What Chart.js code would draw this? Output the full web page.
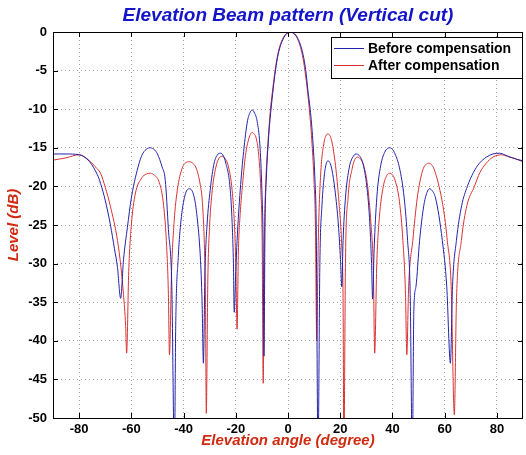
<!DOCTYPE html>
<html>
<head>
<meta charset="utf-8">
<script src="https://cdn.jsdelivr.net/npm/chart.js@4/dist/chart.umd.min.js"></script>
<style>
  html, body { margin: 0; padding: 0; background: #fff; }
  #wrap { width: 526px; height: 455px; position: relative; }
</style>
</head>
<body>
<div id="wrap"><canvas id="c"></canvas></div>
<script>
// values: [angle (deg), level (dB)]
const beforeComp = [
  [-90, -15.8], [-85, -15.8], [-80, -15.9], [-76, -16.8], [-73, -18.5], [-71.8, -19.6],
  [-70, -21.8], [-68, -25], [-66.5, -28], [-65.3, -30.5], [-64.1, -34.5],
  [-63, -29.5], [-61.5, -25.3], [-60, -21.5], [-58.4, -18.8], [-56, -16], [-54.3, -15.2],
  [-52.7, -15.0], [-51, -15.3], [-50, -15.8], [-48.2, -17.5], [-47, -19.2], [-45.8, -25.6],
  [-44.5, -33], [-43.5, -55],
  [-43, -38], [-42, -29], [-41, -24.5], [-39.5, -21.2], [-37.8, -20.3], [-36, -21.3],
  [-34.8, -24], [-33.6, -29], [-32.9, -35], [-32.4, -42.9],
  [-31.8, -31], [-31, -25], [-29.8, -20.5], [-28.3, -17], [-27, -15.9], [-26, -15.7],
  [-25, -15.9], [-23.8, -17], [-22.1, -20.5], [-21.3, -25.5], [-20.9, -30], [-20.6, -36.3],
  [-20, -31], [-19.5, -27], [-18.3, -20.5], [-17, -15.5], [-15.5, -11.5], [-14.5, -10.4],
  [-13.7, -10.1], [-12.8, -10.5], [-11.8, -11.6], [-10.8, -14.5], [-10, -20.5], [-9.5, -28],
  [-9.2, -42],
  [-8.8, -25], [-8.3, -19], [-7.5, -14], [-6.5, -10], [-5.7, -7.5], [-5, -5.5], [-4, -3.3],
  [-3, -1.9], [-2, -1], [-1, -0.4], [0, -0.1], [1, 0], [2, -0.1], [3, -0.4], [4, -1],
  [5, -1.9], [6, -3.3], [7, -5.5], [7.6, -7.5], [8.5, -10], [9.5, -14], [10.3, -19],
  [10.8, -25], [11.5, -55],
  [12.2, -30], [13, -22.5], [14, -18.3], [14.7, -17], [15.3, -16.7], [16, -16.9],
  [16.8, -17.8], [18, -20.5], [19.3, -25], [20.1, -29.5], [20.6, -33],
  [21.1, -27], [22, -21.5], [23.5, -17.5], [25, -16.1], [26.3, -15.8], [27.5, -16.1],
  [28.5, -16.8], [30, -19.5], [31.2, -24], [32, -30], [32.4, -34.6],
  [33, -28], [34, -21.5], [35.5, -17.3], [37, -15.6], [38, -15.1], [39, -15.0], [40, -15.2],
  [41, -15.8], [42.7, -17.6], [44.5, -21.5], [45.8, -27], [46.8, -34], [47.6, -55],
  [48.2, -36], [49, -33], [50.4, -27], [52, -22.5], [53.2, -20.8], [54.2, -20.3],
  [55.3, -20.6], [56.5, -21.5], [59.1, -27], [60.8, -33], [62.2, -42.9],
  [63, -33], [64.5, -27], [66.5, -22.5], [68.7, -20], [71, -18.2], [73.3, -17], [76, -16.2],
  [78.5, -15.8], [81, -15.7], [83, -15.9], [85, -16.2], [90, -16.7]
];

const afterComp = [
  [-90, -16.6], [-85, -16.3], [-80, -15.9], [-77, -16.4], [-74, -17.4], [-71.8, -18.3],
  [-70, -20.1], [-68, -22.6], [-65.3, -27], [-64, -30.4], [-63, -34], [-62.2, -38],
  [-61.8, -41.6],
  [-61, -31], [-60, -25], [-58.5, -21], [-56, -18.9], [-54.3, -18.4], [-52.7, -18.3],
  [-51, -18.6], [-49.5, -19.3], [-47.8, -22], [-46.6, -27], [-45.8, -34], [-45.4, -41.8],
  [-44.6, -31], [-43.6, -24.5], [-42.4, -20.5], [-40.5, -17.6], [-39, -16.9], [-37.8, -16.8],
  [-36.5, -17], [-35.2, -17.6], [-33.6, -19.8], [-32.8, -22], [-32, -28], [-31.6, -35],
  [-31.3, -49.4],
  [-30.7, -32], [-30, -25], [-29, -20.5], [-27.4, -17.2], [-26.3, -16.3], [-25.2, -16.1],
  [-24.1, -16.4], [-23, -17.2], [-21.4, -20.5], [-20.5, -25], [-20, -30], [-19.5, -38.5],
  [-19, -28.5], [-18.3, -23.5], [-17.6, -20.5], [-16.3, -16], [-15, -13.8], [-14.3, -13.2],
  [-13.7, -13.0], [-13, -13.2], [-12.3, -13.6], [-11.2, -16], [-10.4, -20.5], [-9.9, -27],
  [-9.5, -45.5],
  [-9, -26], [-8.5, -19.5], [-7.7, -14.5], [-6.8, -10.3], [-6, -7.8], [-5.2, -5.6],
  [-4.2, -3.4], [-3.2, -1.9], [-2.2, -1], [-1.2, -0.4], [-0.2, -0.1], [0.8, 0],
  [1.8, -0.1], [2.8, -0.4], [3.8, -1], [4.8, -2], [5.8, -3.5], [6.8, -5.8], [7.5, -7.8],
  [8.3, -10.5], [9.2, -14.5], [10, -19.5], [10.5, -25], [11, -40],
  [11.6, -27], [12.5, -18.5], [13.8, -14.3], [14.6, -13.4], [15.3, -13.2], [16, -13.4],
  [16.8, -14.2], [18.2, -17.3], [19.5, -22], [20.6, -28], [21.1, -35], [21.4, -55],
  [22, -30], [23, -21.5], [24.5, -17.8], [25.6, -16.5], [26.7, -16.2], [27.8, -16.5],
  [29, -17.3], [30.5, -20], [31.8, -25], [32.7, -31], [33.2, -41.6],
  [34, -30], [35, -24], [36.5, -20], [37.8, -18.6], [39, -18.3], [40, -18.5], [41, -19.2],
  [42.7, -22], [44, -27], [45, -34], [45.5, -41.8],
  [46.2, -33], [47.8, -27], [49.5, -21.5], [51.5, -18], [52.7, -17.2], [53.8, -17],
  [55, -17.2], [56, -17.8], [58.5, -21], [60, -24], [61, -27], [62.5, -33], [63.7, -49.6],
  [64.5, -35], [66.4, -27], [68.5, -22.5], [71.4, -20], [73.5, -18.2], [75.9, -17],
  [78.5, -16.2], [81.7, -15.9], [84, -16.1], [86, -16.3], [90, -16.8]
];

const xTicks = [-80, -60, -40, -20, 0, 20, 40, 60, 80];
const yTicks = [0, -5, -10, -15, -20, -25, -30, -35, -40, -45, -50];

const FONT = 'Arial, "Liberation Sans", sans-serif';
const BLUE = '#2222aa';
const RED = '#d83232';
const TITLE = 'Elevation Beam pattern (Vertical cut)';

// MATLAB style box with inward ticks, title over the axes, legend inside
const axesBox = {
  id: 'axesBox',
  afterDatasetsDraw(chart) {
    const { ctx, chartArea: a, scales: { x, y } } = chart;
    ctx.save();
    ctx.strokeStyle = '#000';
    ctx.lineWidth = 1;
    ctx.beginPath();
    for (const v of xTicks) {
      const px = Math.round(x.getPixelForValue(v)) + 0.5;
      ctx.moveTo(px, a.bottom); ctx.lineTo(px, a.bottom - 5);
      ctx.moveTo(px, a.top); ctx.lineTo(px, a.top + 5);
    }
    for (const v of yTicks) {
      const py = Math.round(y.getPixelForValue(v)) + 0.5;
      ctx.moveTo(a.left, py); ctx.lineTo(a.left + 5, py);
      ctx.moveTo(a.right, py); ctx.lineTo(a.right - 5, py);
    }
    ctx.stroke();
    ctx.strokeRect(Math.round(a.left) + 0.5, Math.round(a.top) + 0.5,
      Math.round(a.right - a.left) - 1, Math.round(a.bottom - a.top));
    ctx.restore();
  },
  afterDraw(chart) {
    const { ctx, chartArea: a } = chart;
    ctx.save();
    // title
    ctx.font = 'italic bold 19px ' + FONT;
    ctx.fillStyle = '#1414c8';
    ctx.textAlign = 'center';
    ctx.textBaseline = 'middle';
    ctx.fillText(TITLE, (a.left + a.right) / 2, 16);

    // legend
    const bx = a.right - 192, by = a.top + 5, bw = 191, bh = 41;
    ctx.textAlign = 'left';
    ctx.fillStyle = '#fff';
    ctx.fillRect(bx, by, bw, bh);
    ctx.strokeStyle = '#000';
    ctx.lineWidth = 1;
    ctx.strokeRect(bx + 0.5, by + 0.5, bw, bh);
    ctx.font = 'bold 14px ' + FONT;
    chart.data.datasets.forEach((ds, i) => {
      const ly = by + 11.5 + i * 17;
      ctx.strokeStyle = ds.borderColor;
      ctx.beginPath();
      ctx.moveTo(bx + 3, ly); ctx.lineTo(bx + 33, ly);
      ctx.stroke();
      ctx.fillStyle = '#000';
      ctx.fillText(ds.label, bx + 37, ly + 1);
    });
    ctx.restore();
  }
};

const pts = arr => arr.map(([x, y]) => ({ x, y }));

new Chart(document.getElementById('c'), {
  type: 'line',
  data: {
    datasets: [
      { label: 'Before compensation', data: pts(beforeComp), borderColor: BLUE },
      { label: 'After compensation', data: pts(afterComp), borderColor: RED },
    ],
  },
  options: {
    responsive: true,
    maintainAspectRatio: false,
    animation: false,
    elements: {
      line: { borderWidth: 1, cubicInterpolationMode: 'monotone' },
      point: { radius: 0 },
    },
    layout: { padding: { left: 0, right: 3, top: 32, bottom: 0 } },
    plugins: {
      legend: { display: false },
      tooltip: { enabled: false },
      title: { display: false },
    },
    scales: {
      x: {
        type: 'linear',
        min: -90,
        max: 90,
        afterBuildTicks: s => { s.ticks = xTicks.map(v => ({ value: v })); },
        afterFit: s => { s.height = 37; },
        grid: { color: '#a8a8a8', drawTicks: false },
        border: { display: false, dash: [1, 3] },
        ticks: { color: '#000', padding: 4, font: { family: FONT, size: 13, weight: 'bold' } },
        title: {
          display: true,
          text: 'Elevation angle (degree)',
          color: '#d02a10',
          font: { family: FONT, size: 15, weight: 'bold', style: 'italic' },
          padding: { top: 0, bottom: 5 },
        },
      },
      y: {
        type: 'linear',
        min: -50,
        max: 0,
        afterBuildTicks: s => { s.ticks = yTicks.map(v => ({ value: v })); },
        afterFit: s => { s.width = 53; },
        grid: { color: '#a8a8a8', drawTicks: false },
        border: { display: false, dash: [1, 3] },
        ticks: { color: '#000', padding: 6, font: { family: FONT, size: 13, weight: 'bold' } },
        title: {
          display: true,
          text: 'Level (dB)',
          color: '#d02a10',
          font: { family: FONT, size: 15, weight: 'bold', style: 'italic' },
          padding: { top: 5, bottom: 0 },
        },
      },
    },
  },
  plugins: [axesBox],
});
</script>
</body>
</html>
